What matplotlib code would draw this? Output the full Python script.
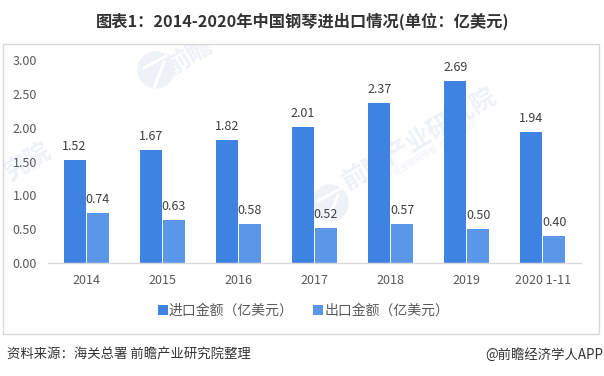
import matplotlib
matplotlib.use("Agg")
import matplotlib.pyplot as plt
import numpy as np
from matplotlib.patches import Rectangle, Ellipse
from matplotlib.lines import Line2D

plt.rcParams['font.family'] = ['Noto Sans CJK SC', 'DejaVu Sans']

categories = ['2014', '2015', '2016', '2017', '2018', '2019', '2020 1-11']
imports = [1.52, 1.67, 1.82, 2.01, 2.37, 2.69, 1.94]
exports = [0.74, 0.63, 0.58, 0.52, 0.57, 0.50, 0.40]
yticks = [0, 0.5, 1.0, 1.5, 2.0, 2.5, 3.0]
title = '图表1：2014-2020年中国钢琴进出口情况(单位：亿美元)'
legend_names = ['进口金额（亿美元）', '出口金额（亿美元）']
source = '资料来源：海关总署 前瞻产业研究院整理'
credit = '@前瞻经济学人APP'
wm_main = '前瞻产业研究院'
wm_sub = '中国产业咨询领导者（82839599）'
WM = '#EEF1F6'

W, H = 604, 376
fig = plt.figure(figsize=(W / 100, H / 100), dpi=100, facecolor='white')

def fx(p): return p / W
def fy(p): return 1 - p / H

# outer frame
frame = Rectangle((fx(2.5), fy(333.5)), fx(596), 289.5 / H, transform=fig.transFigure,
                  fill=False, edgecolor='#D9D9D9', linewidth=1, zorder=1)
fig.add_artist(frame)

# watermarks (behind the axes)
def logo(cx, cy):
    fig.add_artist(Ellipse((fx(cx), fy(cy)), 36 / W, 36 / H, transform=fig.transFigure,
                           color=WM, zorder=0))
    fig.add_artist(Line2D([fx(cx - 2), fx(cx + 8)], [fy(cy + 18), fy(cy - 8)],
                          color='white', lw=2, zorder=0.1))
    fig.add_artist(Line2D([fx(cx - 12), fx(cx + 10)], [fy(cy - 2), fy(cy - 14)],
                          color='white', lw=2, zorder=0.1))

logo(330, 203)
logo(156, 70)
fig.text(fx(420), fy(140), wm_main, color=WM, fontsize=18, rotation=31, ha='center', va='center',
         fontweight='bold', zorder=0, rotation_mode='anchor')
fig.text(fx(428), fy(153), wm_sub, color=WM, fontsize=6, rotation=31, ha='center', va='center',
         zorder=0, rotation_mode='anchor')
fig.text(fx(190), fy(56), '前瞻', color=WM, fontsize=18, rotation=31, ha='center', va='center',
         fontweight='bold', zorder=0, rotation_mode='anchor')
fig.text(fx(28), fy(163), '究院', color=WM, fontsize=18, rotation=31, ha='center', va='center',
         fontweight='bold', zorder=0, rotation_mode='anchor')
# hide what sticks out above the frame
fig.add_artist(Rectangle((fx(100), fy(43.5)), fx(200), 15 / H, transform=fig.transFigure,
                         facecolor='white', edgecolor='none', zorder=0.5))

ax = fig.add_axes([fx(48), fy(263), (581 - 48) / W, (263 - 60) / H], zorder=2)
ax.patch.set_alpha(0)
x = np.arange(len(categories))
bw = 0.29
gap = 0.012
c1, c2 = '#3F83E2', '#5A97E8'
b1 = ax.bar(x - bw / 2 - gap / 2, imports, bw, color=c1, label=legend_names[0])
b2 = ax.bar(x + bw / 2 + gap / 2, exports, bw, color=c2, label=legend_names[1])
for rects, vals in ((b1, imports), (b2, exports)):
    for r, v in zip(rects, vals):
        ax.annotate(f'{v:.2f}', (r.get_x() + r.get_width() / 2, v), xytext=(0, 5),
                    textcoords='offset points', ha='center', va='bottom',
                    fontsize=9, color='#404040')

ax.set_xlim(-0.5, len(categories) - 0.5)
ax.set_ylim(0, 3)
ax.set_xticks(x, categories)
ax.set_yticks(yticks, [f'{t:.2f}' for t in yticks])
ax.tick_params(axis='both', length=0, labelsize=9, labelcolor='#595959')
ax.tick_params(axis='x', pad=8)
ax.tick_params(axis='y', pad=8)
for s in ('top', 'left', 'right'):
    ax.spines[s].set_visible(False)
ax.spines['bottom'].set_color('#D9D9D9')
ax.spines['bottom'].set_linewidth(1)

fig.legend(handles=[b1, b2], labels=legend_names, loc='center', ncol=2,
           bbox_to_anchor=(fx(303.5), fy(311)), frameon=False, fontsize=10,
           labelcolor='#595959', handlelength=0.7, handleheight=0.7,
           handletextpad=0.1, columnspacing=1.4)

fig.text(fx(302.5), fy(21), title, ha='center', va='center', fontsize=11.7,
         fontweight='bold', color='#333333')
fig.text(fx(7), fy(355), source, ha='left', va='center', fontsize=9.6, color='#333333')
fig.text(fx(603), fy(355), credit, ha='right', va='center', fontsize=9.6, color='#333333')

fig.savefig('out.png', dpi=100, facecolor='white')
